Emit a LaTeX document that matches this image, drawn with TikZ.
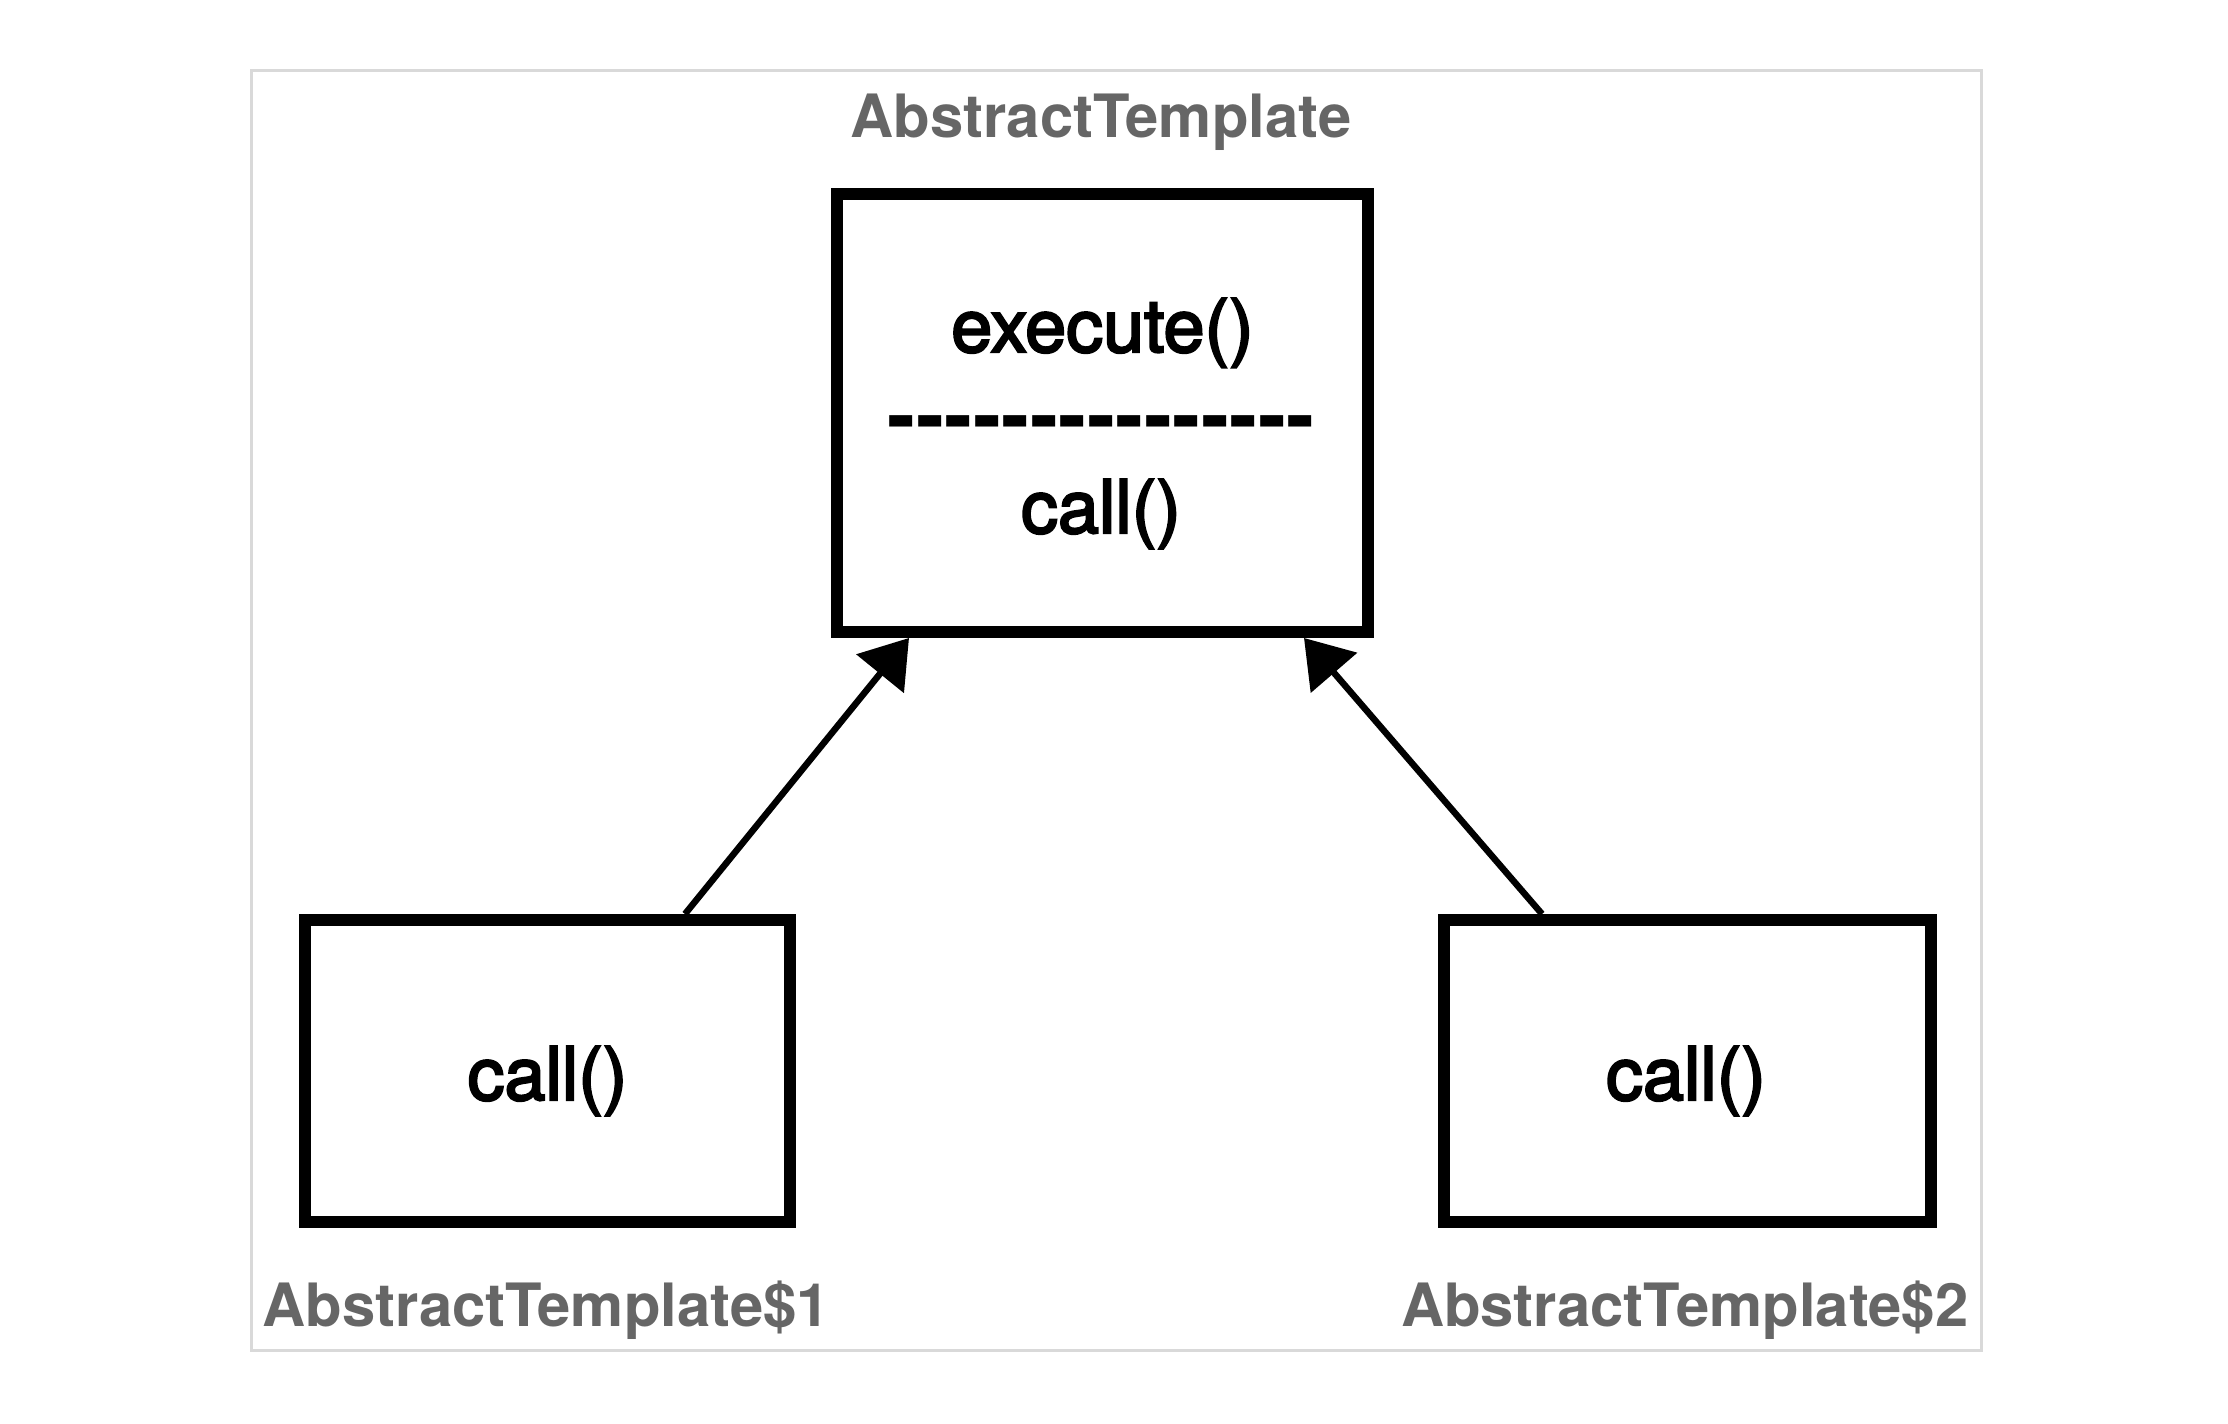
\documentclass[tikz,border=0pt]{standalone}
\usepackage{fontspec}
\setmainfont{TeX Gyre Heros}
\newfontfamily\methodfont[FakeBold=3]{TeX Gyre Heros}
\usetikzlibrary{arrows.meta}
\definecolor{lblgray}{HTML}{666666}
\definecolor{framegray}{HTML}{D9D9D9}
\newcommand\hyph{\makebox[0.285cm]{-}}
\begin{document}
\begin{tikzpicture}[x=1cm,y=1cm,
  umlbox/.style={draw=black, line width=0.12cm, rectangle, inner sep=0pt, fill=white},
  methodtext/.style={font=\methodfont\fontsize{21}{25}\selectfont, inner sep=0pt, anchor=base},
  dashtext/.style={font=\fontsize{24}{28}\selectfont\bfseries, inner sep=0pt, anchor=base},
  classlabel/.style={font=\fontsize{17}{20}\selectfont\bfseries, text=lblgray, inner sep=0pt},
  inherit/.style={draw=black, line width=0.065cm, -{Triangle[length=0.46cm,width=0.6cm]}},
]
\useasboundingbox (0,0) rectangle (22.28,-14.24);
\fill[white] (0,0) rectangle (22.28,-14.24);
\node[draw=framegray, line width=0.03cm, minimum width=17.30cm, minimum height=12.80cm, inner sep=0pt] (frame) at (11.165,-7.105) {};

\node[umlbox, minimum width=5.31cm, minimum height=4.38cm] (top) at (11.025,-4.13) {};
\node[umlbox, minimum width=4.85cm, minimum height=3.02cm] (sub1) at (5.475,-10.71) {};
\node[umlbox, minimum width=4.87cm, minimum height=3.02cm] (sub2) at (16.875,-10.71) {};

\node[methodtext] (exec) at (11.025,-3.52) {execute()};
\node[dashtext] (sep) at (11.015,-4.45) {\hyph\hyph\hyph\hyph\hyph\hyph\hyph\hyph\hyph\hyph\hyph\hyph\hyph\hyph\hyph};
\node[methodtext] (call0) at (11.01,-5.33) {call()};
\node[methodtext] (call1) at (5.475,-11.00) {call()};
\node[methodtext] (call2) at (16.86,-11.00) {call()};

\node[classlabel, anchor=base] (title) at (11.01,-1.38) {AbstractTemplate};
\node[classlabel, anchor=base west] (lab1) at (2.62,-13.27) {AbstractTemplate\$1};
\node[classlabel, anchor=base east] (lab2) at (19.69,-13.27) {AbstractTemplate\$2};

\draw[inherit] ([xshift=1.375cm]sub1.north) -- ([xshift=-1.935cm]top.south);
\draw[inherit] ([xshift=-1.455cm]sub2.north) -- ([xshift=2.015cm]top.south);
\end{tikzpicture}
\end{document}
